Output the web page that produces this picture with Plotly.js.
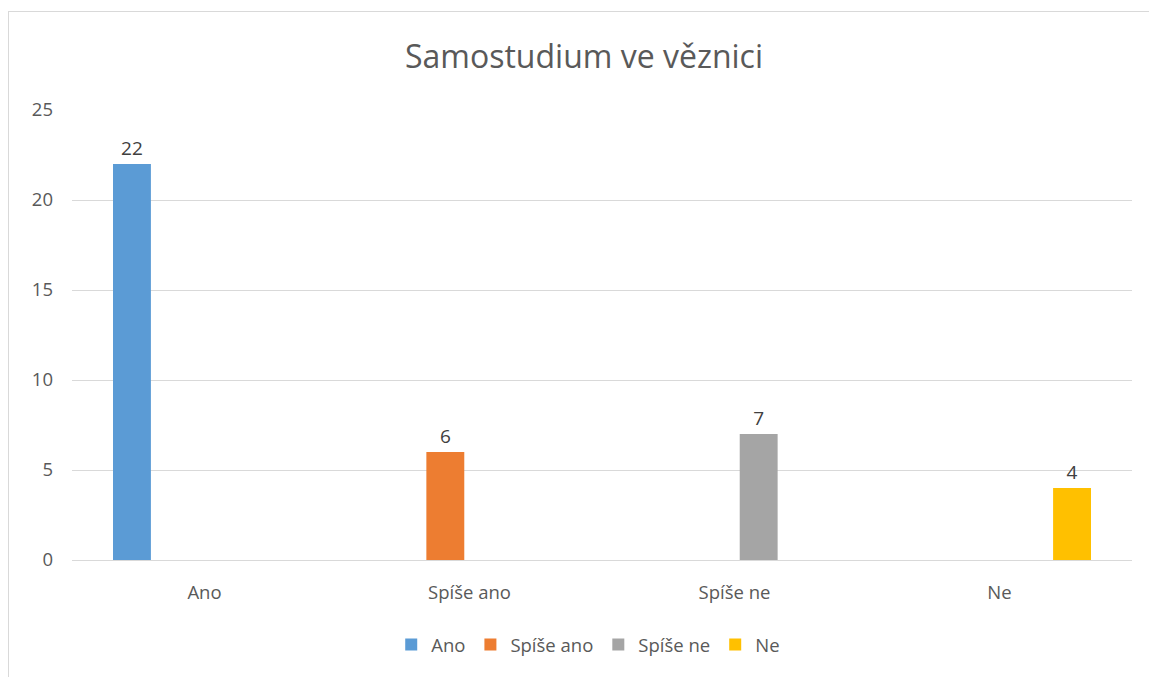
<!DOCTYPE html>
<html>
<head>
<meta charset="utf-8">
<script src="https://cdn.plot.ly/plotly-3.0.1.min.js"></script>
<style>
html,body{margin:0;padding:0;background:#fff;overflow:hidden;}
#chart{position:absolute;left:8px;top:11px;width:1150px;height:680px;border:1px solid #D9D9D9;}
</style>
</head>
<body>
<div id="chart"></div>
<script>
const categories = ["Ano", "Spíše ano", "Spíše ne", "Ne"];
const seriesNames = ["Ano", "Spíše ano", "Spíše ne", "Ne"];
const seriesValues = [22, 6, 7, 4];
const seriesColors = ["#5B9BD5", "#ED7D31", "#A5A5A5", "#FFC000"];
const yTicks = [0, 5, 10, 15, 20, 25];

const font = "Open Sans, Noto Sans, sans-serif";
const traces = seriesNames.map((name, i) => ({
  type: "bar",
  name: name,
  x: [categories[i]],
  y: [seriesValues[i]],
  offsetgroup: "g" + i,
  alignmentgroup: "a",
  marker: {color: seriesColors[i]},
  text: [String(seriesValues[i])],
  textposition: "outside",
  cliponaxis: false,
  textfont: {family: font, size: 19, color: "#404040"},
  hoverinfo: "x+y+name"
}));

const layout = {
  width: 1150, height: 680,
  margin: {l: 63, r: 27, t: 98, b: 132},
  paper_bgcolor: "#fff", plot_bgcolor: "#fff",
  font: {family: font, color: "#595959", size: 18.5},
  title: {text: "Samostudium ve věznici", font: {family: font, size: 32, color: "#595959"}, x: 0.5, xanchor: "center", y: 1 - 45/680, yanchor: "middle", yref: "container"},
  barmode: "group",
  bargap: 0.27,
  bargroupgap: 0.216,
  showlegend: true,
  legend: {orientation: "h", x: 0.487, xanchor: "center", y: -0.189, yanchor: "middle", font: {family: font, size: 18.5, color: "#595959"}, itemwidth: 30, traceorder: "normal"},
  xaxis: {type: "category", categoryorder: "array", categoryarray: categories, showgrid: false, showline: true, linecolor: "#D9D9D9", linewidth: 1, ticks: "", ticklabelstandoff: 16, tickfont: {family: font, size: 18.5, color: "#595959"}, zeroline: false, fixedrange: true},
  yaxis: {range: [0, 25], tickvals: yTicks, ticktext: yTicks.map(String), showgrid: true, gridcolor: "#D9D9D9", gridwidth: 1, zeroline: false, showline: false, ticks: "", ticklabelstandoff: 18, tickfont: {family: font, size: 18.5, color: "#595959"}, fixedrange: true}
};

Plotly.newPlot("chart", traces, layout, {displayModeBar: false, staticPlot: true});
</script>
</body>
</html>
